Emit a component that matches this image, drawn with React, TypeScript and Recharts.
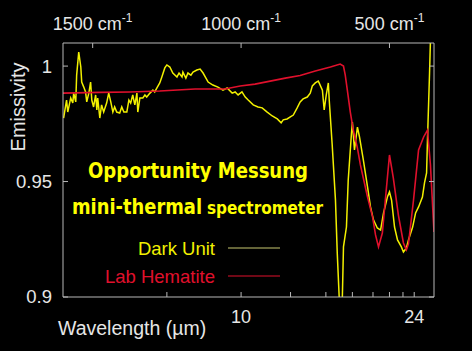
import { LineChart, Line, XAxis, YAxis, Legend } from "recharts";

// wavenumber (cm-1) and emissivity
const darkUnitNu = [
  1598, 1588, 1584, 1574, 1567, 1564, 1557, 1554, 1547, 1540,
  1537, 1530, 1524, 1520, 1513, 1507, 1503, 1497, 1490, 1486,
  1483, 1476, 1470, 1463, 1453, 1446, 1439, 1432, 1426, 1419,
  1409, 1402, 1395, 1385, 1378, 1372, 1365, 1358, 1351, 1348,
  1341, 1331, 1324, 1318, 1307, 1297, 1291, 1284, 1274, 1267,
  1257, 1250, 1240, 1230, 1216, 1209, 1199, 1196, 1186, 1179,
  1169, 1162, 1149, 1138, 1128, 1111, 1095, 1078, 1061, 1047,
  1030, 1020, 1010, 997, 986, 976, 959, 943, 929, 912,
  895, 878, 865, 858, 845, 834, 824, 811, 801, 791,
  777, 767, 760, 750, 740, 737, 726, 720, 713, 706,
  703, 693, 682, 676, 669, 664, 659, 655, 645, 639,
  628, 625, 618, 608, 601, 588, 574, 564, 554, 541,
  530, 520, 507, 500, 493, 483, 473, 460, 453, 443,
  436, 422, 412, 402, 389, 382, 375, 372, 365, 362,
  358,
];
const darkUnitEm = [
  0.9775, 0.9853, 0.9801, 0.9862, 0.984, 0.9883, 0.9845, 0.9961, 1.0061, 0.9996,
  0.9931, 0.9909, 0.9888, 0.9845, 0.9883, 0.9931, 0.9853, 0.9823, 0.9875, 0.981,
  0.9862, 0.9775, 0.9832, 0.9801, 0.984, 0.9883, 0.9845, 0.9801, 0.9823, 0.9801,
  0.9797, 0.9823, 0.9801, 0.9801, 0.9853, 0.984, 0.9875, 0.9832, 0.9883, 0.9801,
  0.9862, 0.9862, 0.9875, 0.9866, 0.9883, 0.9896, 0.9888, 0.9905, 0.9927, 0.9953,
  0.9992, 1.0005, 0.9996, 0.997, 0.9953, 0.997, 0.9953, 0.9974, 0.9948, 0.997,
  0.9961, 0.9974, 0.9983, 0.9987, 0.997, 0.9931, 0.9918, 0.9909, 0.9896, 0.9905,
  0.9883, 0.9888, 0.9875, 0.9888, 0.9866, 0.9853, 0.9832, 0.9823, 0.9819, 0.9801,
  0.9784, 0.9771, 0.9754, 0.9767, 0.9771, 0.978, 0.9788, 0.9819, 0.9845, 0.9858,
  0.9866, 0.9883, 0.9914, 0.9927, 0.9935, 0.9927, 0.9896, 0.981, 0.9875, 0.9927,
  0.9853, 0.9658, 0.942, 0.9191, 0.8987, 0.886, 0.8987, 0.9217, 0.9303, 0.9507,
  0.971, 0.9758, 0.9637, 0.9736, 0.9693, 0.9593, 0.9477, 0.939, 0.9334, 0.9299,
  0.929, 0.9364, 0.9433, 0.9455, 0.942, 0.9303, 0.9247, 0.9217, 0.9195, 0.9212,
  0.9247, 0.9303, 0.9364, 0.939, 0.9433, 0.9494, 0.9537, 0.968, 0.997, 1.011,
  1.02,
];

const hematiteNu = [
  1600, 1476, 1375, 1274, 1155, 1054, 1003, 953, 902, 851,
  801, 750, 699, 666, 655, 649, 642, 632, 622, 608,
  598, 574, 557, 547, 537, 524, 514, 500, 487, 470,
  453, 443, 436, 419, 402, 385, 372, 362, 350,
];
const hematiteEm = [
  0.9883, 0.9886, 0.9888, 0.9892, 0.9901, 0.9901, 0.9914, 0.9922, 0.9935, 0.9948,
  0.9959, 0.9979, 0.9996, 1.0009, 1.0, 0.9961, 0.9896, 0.9801, 0.9723, 0.9645,
  0.9572, 0.9433, 0.9347, 0.9269, 0.9217, 0.9277, 0.942, 0.9615, 0.9515, 0.9355,
  0.9234, 0.9204, 0.923, 0.942, 0.9637, 0.9693, 0.9723, 0.9572, 0.9282,
];

const wavelengthTicks = [8, 10, 12, 14, 16, 18, 20, 22, 24];
const wavelengthLabels = [10, 24];
const wavenumberTicks = [1500, 1000, 500];
const emissivityTicks = [0.9, 0.95, 1];

const darkUnit = darkUnitNu.map((nu, i) => ({ nu, em: darkUnitEm[i] }));
const hematite = hematiteNu.map((nu, i) => ({ nu, em: hematiteEm[i] }));

const AXIS = "#b8b8b8";
const TEXT = "#e6e6e6";
const FONT = "'Liberation Sans', Arial, sans-serif";
const YELLOW = "#f2f000";
const RED = "#e0102c";

const BottomTick = ({ x, y, payload }: any) => {
  const lambda = Math.round(10000 / payload.value);
  return (
    <g>
      <line x1={x} x2={x} y1={y} y2={y - 5} stroke={AXIS} />
      {wavelengthLabels.includes(lambda) && (
        <text x={x} y={y + 26} textAnchor="middle" fill={TEXT} fontSize={18} fontFamily={FONT}>
          {lambda}
        </text>
      )}
    </g>
  );
};

const TopTick = ({ x, y, payload }: any) => (
  <g>
    <line x1={x} x2={x} y1={y} y2={y + 5} stroke={AXIS} />
    <text x={x} y={y - 13} textAnchor="middle" fill={TEXT} fontSize={18} fontFamily={FONT}>
      {payload.value} cm
      <tspan dy={-8} fontSize={12}>-1</tspan>
    </text>
  </g>
);

const LeftTick = ({ x, y, payload }: any) => (
  <g>
    <line x1={x} x2={x + 5} y1={y} y2={y} stroke={AXIS} />
    <text x={x - 11} y={y} dy="0.35em" textAnchor="end" fill={TEXT} fontSize={18.5} fontFamily={FONT}>
      {payload.value}
    </text>
  </g>
);

const RightTick = ({ x, y }: any) => (
  <line x1={x} x2={x - 5} y1={y} y2={y} stroke={AXIS} />
);

const legendColors: Record<string, string> = { "Dark Unit": "#c8c870", "Lab Hematite": RED };

const LegendBox = ({ payload }: any) => (
  <svg width={200} height={52}>
    {(payload || []).map((p: any, i: number) => (
      <g key={p.value}>
        <text x={125} y={19 + i * 28} textAnchor="end" fill={p.color} fontSize={18.5} fontFamily={FONT}>
          {p.value}
        </text>
        <line x1={138} x2={190} y1={12 + i * 28} y2={12 + i * 28} stroke={legendColors[p.value]} strokeWidth={1} />
      </g>
    ))}
  </svg>
);

export default function App() {
  return (
    <div style={{ position: "absolute", left: 0, top: 0, width: 472, height: 351, background: "#000" }}>
      <LineChart width={472} height={351} margin={{ top: 23, right: 28, bottom: 24, left: 13 }}>
        <XAxis
          xAxisId="bottom"
          dataKey="nu"
          type="number"
          domain={[350, 1600]}
          reversed
          allowDataOverflow
          ticks={wavelengthTicks.map((l) => 10000 / l)}
          interval={0}
          tick={<BottomTick />}
          tickLine={false}
          tickSize={0}
          tickMargin={0}
          height={30}
          axisLine={{ stroke: AXIS }}
        />
        <XAxis
          xAxisId="top"
          orientation="top"
          dataKey="nu"
          type="number"
          domain={[350, 1600]}
          reversed
          allowDataOverflow
          ticks={wavenumberTicks}
          interval={0}
          tick={<TopTick />}
          tickLine={false}
          tickSize={0}
          tickMargin={0}
          height={20}
          axisLine={{ stroke: AXIS }}
        />
        <YAxis
          yAxisId="left"
          type="number"
          domain={[0.9, 1.01]}
          allowDataOverflow
          ticks={emissivityTicks}
          interval={0}
          tick={<LeftTick />}
          tickLine={false}
          tickSize={0}
          tickMargin={0}
          width={50}
          axisLine={{ stroke: AXIS }}
        />
        <YAxis
          yAxisId="right"
          orientation="right"
          type="number"
          domain={[0.9, 1.01]}
          allowDataOverflow
          ticks={emissivityTicks}
          interval={0}
          tick={<RightTick />}
          tickLine={false}
          tickSize={0}
          tickMargin={0}
          width={10}
          axisLine={{ stroke: AXIS }}
        />
        <Line
          xAxisId="bottom"
          yAxisId="left"
          data={darkUnit}
          dataKey="em"
          name="Dark Unit"
          stroke={YELLOW}
          strokeWidth={1.5}
          dot={false}
          type="linear"
          isAnimationActive={false}
        />
        <Line
          xAxisId="bottom"
          yAxisId="left"
          data={hematite}
          dataKey="em"
          name="Lab Hematite"
          stroke={RED}
          strokeWidth={1.6}
          dot={false}
          type="linear"
          isAnimationActive={false}
        />
        <Legend
          layout="vertical"
          align="center"
          verticalAlign="middle"
          content={<LegendBox />}
          wrapperStyle={{ left: 90, top: 236, width: 200 }}
        />
      </LineChart>
      <svg
        width={472}
        height={351}
        style={{ position: "absolute", left: 0, top: 0, pointerEvents: "none" }}
      >
        <text
          transform="translate(25,107) rotate(-90)"
          textAnchor="middle"
          fill={TEXT}
          fontSize={20}
          fontFamily={FONT}
        >
          Emissivity
        </text>
        <text x={58} y={335} fill={TEXT} fontSize={19.5} fontFamily={FONT}>
          Wavelength (µm)
        </text>
        <g fill="#ffff00" fontWeight="bold" fontFamily="'DejaVu Sans Condensed', 'DejaVu Sans', sans-serif">
          <text x={88} y={178} fontSize={22} textLength={220} lengthAdjust="spacingAndGlyphs">
            Opportunity Messung
          </text>
          <text x={72} y={214} fontSize={22} textLength={130} lengthAdjust="spacingAndGlyphs">
            mini-thermal
          </text>
          <text x={207} y={214} fontSize={18} textLength={116} lengthAdjust="spacingAndGlyphs">
            spectrometer
          </text>
        </g>
      </svg>
    </div>
  );
}
